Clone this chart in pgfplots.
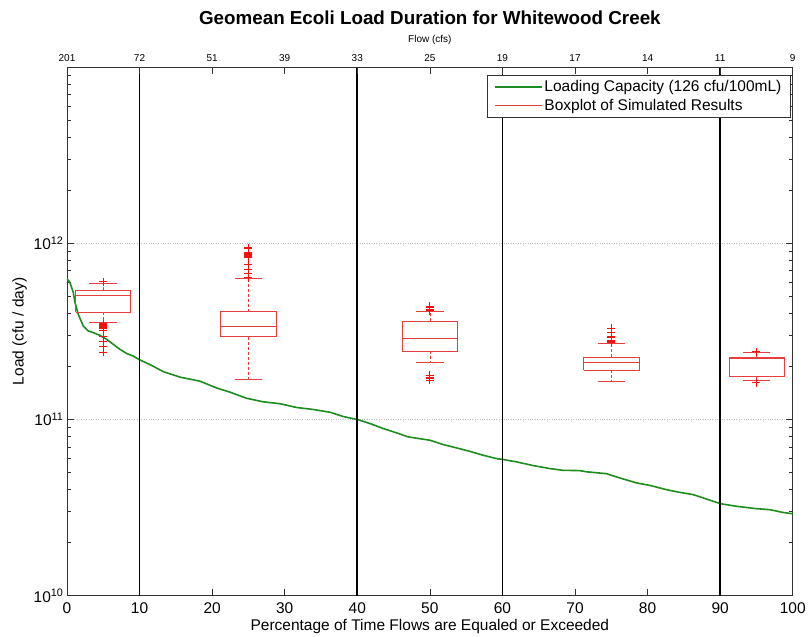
\documentclass[border=0pt]{standalone}
\usepackage{pgfplots}
\pgfplotsset{compat=1.18}
\usepackage{fontspec}
\setmainfont{Liberation Sans}

\definecolor{capgreen}{RGB}{30,140,30}
\definecolor{boxred}{RGB}{228,62,62}
\definecolor{outred}{RGB}{245,15,15}

% MATLAB-like boxplot parts
\pgfplotsset{
  boxline/.style={boxred, line width=0.7pt, forget plot, mark=none},
  whisk/.style={boxred, line width=0.7pt, forget plot, mark=none, dash pattern=on 3pt off 2pt},
  outl/.style={draw=outred, only marks, mark=+, mark size=4pt, forget plot,
    mark options={draw=outred, solid, line width=1.1pt}},
}

\begin{document}
\begin{tikzpicture}
\begin{axis}[
  scale only axis, width=726pt, height=529pt,
  xmin=0, xmax=100, ymin=1e10, ymax=1e13, ymode=log,
  xtick={0,10,...,100}, xtick pos=bottom,
  ytick={1e10,1e11,1e12},
  yticklabels={10\textsuperscript{10},10\textsuperscript{11},10\textsuperscript{12}},
  minor ytick={2e10,3e10,4e10,5e10,6e10,7e10,8e10,9e10,
               2e11,3e11,4e11,5e11,6e11,7e11,8e11,9e11,
               2e12,3e12,4e12,5e12,6e12,7e12,8e12,9e12},
  yticklabel pos=left,
  ymajorgrids, major grid style={dotted, black!25, line width=0.6pt},
  tick align=inside,
  major tick length=7pt, minor tick length=4pt,
  every tick/.style={black!80, line width=0.6pt},
  axis line style={black!80, line width=0.8pt},
  tick label style={font=\fontsize{15.5}{18}\selectfont},
  xticklabel style={yshift=-3pt},
  /pgf/number format/assume math mode=true,
  xlabel={Percentage of Time Flows are Equaled or Exceeded},
  ylabel={Load (cfu / day)},
  label style={font=\fontsize{15.5}{18}\selectfont},
  xlabel style={yshift=1pt},
  legend style={at={(0.997,0.985)}, anchor=north east, draw=black!80, fill=white,
    font=\fontsize{15.5}{19}\selectfont, inner xsep=7pt, inner ysep=3.5pt, row sep=1.5pt},
  legend cell align=left,
  legend image code/.code={\draw[#1] (2pt,0pt) -- (49pt,0pt);},
]

% loading capacity duration curve
\addplot[capgreen, line width=1.6pt, mark=none] coordinates {
(0,6.3e11) (0.41,5.98e11) (0.87,5.25e11) (1.10,4.62e11) (1.56,3.95e11)
(2.25,3.39e11) (2.93,3.18e11) (3.62,3.11e11) (4.55,3.00e11) (5.47,2.85e11)
(6.38,2.67e11) (7.30,2.50e11) (8.22,2.37e11) (9.13,2.29e11) (9.92,2.19e11)
(11.43,2.05e11) (13.26,1.87e11) (15.56,1.74e11) (18.32,1.65e11) (20.62,1.51e11)
(22.45,1.43e11) (24.75,1.32e11) (27.04,1.26e11) (29.34,1.23e11) (31.64,1.17e11)
(33.93,1.14e11) (36.23,1.10e11) (38.06,1.04e11) (40.0,1.00e11) (41.74,9.49e10)
(43.57,8.89e10) (45.41,8.40e10) (47.01,7.97e10) (50.0,7.63e10) (51.83,7.21e10)
(53.68,6.90e10) (55.51,6.60e10) (57.34,6.27e10) (59.19,6.00e10) (60.1,5.93e10)
(61.94,5.75e10) (64.23,5.48e10) (66.53,5.27e10) (68.36,5.15e10) (70.66,5.13e10)
(71.58,5.05e10) (74.34,4.93e10) (76.17,4.66e10) (78.47,4.37e10) (80.30,4.23e10)
(82.60,4.00e10) (84.44,3.86e10) (86.27,3.75e10) (88.11,3.54e10) (90.04,3.33e10)
(92.24,3.22e10) (95.0,3.12e10) (96.83,3.08e10) (98.66,2.97e10) (100,2.92e10)
};
\addlegendentry{Loading Capacity (126 cfu/100mL)}

% flow regime boundaries
\addplot[black, line width=1.7pt, forget plot] coordinates {(10,1e10) (10,1e13)};
\addplot[black, line width=1.7pt, forget plot] coordinates {(40,1e10) (40,1e13)};
\addplot[black, line width=1.7pt, forget plot] coordinates {(60,1e10) (60,1e13)};
\addplot[black, line width=1.7pt, forget plot] coordinates {(90,1e10) (90,1e13)};

% --- box at 5 %: whiskers 3.57e11 / 5.93e11, quartiles 4.06e11 / 5.41e11, median 5.08e11
\addplot[whisk] coordinates {(5,4.06e11) (5,3.57e11)};
\addplot[whisk] coordinates {(5,5.41e11) (5,5.93e11)};
\addplot[boxline] coordinates {(3.1,3.57e11) (6.9,3.57e11)};
\addplot[boxline] coordinates {(3.1,5.93e11) (6.9,5.93e11)};
\addplot[boxline] coordinates {(1.2,4.06e11) (8.8,4.06e11) (8.8,5.41e11) (1.2,5.41e11) (1.2,4.06e11)};
\addplot[boxline] coordinates {(1.2,5.08e11) (8.8,5.08e11)};
\addplot[outl] coordinates {(5,3.50e11) (5,3.47e11) (5,3.42e11) (5,3.38e11)
  (5,3.34e11) (5,3.28e11) (5,3.21e11) (5,2.97e11) (5,2.78e11) (5,2.60e11) (5,2.41e11)
  (5,6.05e11)};

% --- box at 25 %
\addplot[whisk] coordinates {(25,2.95e11) (25,1.70e11)};
\addplot[whisk] coordinates {(25,4.09e11) (25,6.30e11)};
\addplot[boxline] coordinates {(23.1,1.70e11) (26.9,1.70e11)};
\addplot[boxline] coordinates {(23.1,6.30e11) (26.9,6.30e11)};
\addplot[boxline] coordinates {(21.2,2.95e11) (28.8,2.95e11) (28.8,4.09e11) (21.2,4.09e11) (21.2,2.95e11)};
\addplot[boxline] coordinates {(21.2,3.39e11) (28.8,3.39e11)};
\addplot[outl] coordinates {(25,6.37e11) (25,6.73e11) (25,7.10e11) (25,7.60e11) (25,8.30e11)
  (25,8.45e11) (25,8.55e11) (25,8.65e11) (25,8.80e11) (25,9.40e11)};

% --- box at 50 %
\addplot[whisk] coordinates {(50,2.44e11) (50,2.10e11)};
\addplot[whisk] coordinates {(50,3.62e11) (50,4.12e11)};
\addplot[boxline] coordinates {(48.1,2.10e11) (51.9,2.10e11)};
\addplot[boxline] coordinates {(48.1,4.12e11) (51.9,4.12e11)};
\addplot[boxline] coordinates {(46.2,2.44e11) (53.8,2.44e11) (53.8,3.62e11) (46.2,3.62e11) (46.2,2.44e11)};
\addplot[boxline] coordinates {(46.2,2.88e11) (53.8,2.88e11)};
\addplot[outl] coordinates {(50,4.15e11) (50,4.22e11) (50,4.30e11) (50,4.38e11)
  (50,1.78e11) (50,1.74e11) (50,1.70e11) (50,1.67e11)};

% --- box at 75 %
\addplot[whisk] coordinates {(75,1.90e11) (75,1.64e11)};
\addplot[whisk] coordinates {(75,2.26e11) (75,2.69e11)};
\addplot[boxline] coordinates {(73.1,1.64e11) (76.9,1.64e11)};
\addplot[boxline] coordinates {(73.1,2.69e11) (76.9,2.69e11)};
\addplot[boxline] coordinates {(71.2,1.90e11) (78.8,1.90e11) (78.8,2.26e11) (71.2,2.26e11) (71.2,1.90e11)};
\addplot[boxline] coordinates {(71.2,2.10e11) (78.8,2.10e11)};
\addplot[outl] coordinates {(75,2.74e11) (75,2.78e11) (75,2.82e11) (75,2.94e11)
  (75,3.11e11) (75,3.30e11)};

% --- box at 95 %
\addplot[whisk] coordinates {(95,1.76e11) (95,1.67e11)};
\addplot[whisk] coordinates {(95,2.24e11) (95,2.39e11)};
\addplot[boxline] coordinates {(93.1,1.67e11) (96.9,1.67e11)};
\addplot[boxline] coordinates {(93.1,2.39e11) (96.9,2.39e11)};
\addplot[boxline] coordinates {(91.2,1.76e11) (98.8,1.76e11) (98.8,2.24e11) (91.2,2.24e11) (91.2,1.76e11)};
\addplot[boxline] coordinates {(91.2,2.21e11) (98.8,2.21e11)};
\addplot[outl] coordinates {(95,2.42e11) (95,1.62e11)};

\addlegendimage{boxred, line width=1.3pt}
\addlegendentry{Boxplot of Simulated Results}

\coordinate (bl) at (rel axis cs:0,0);
\coordinate (tr) at (rel axis cs:1,1);
\end{axis}

% flow scale along the top edge
\begin{axis}[
  scale only axis, width=726pt, height=529pt,
  xmin=0, xmax=100, ymin=0, ymax=1,
  axis x line*=top, axis y line=none,
  xtick={0,10,...,100},
  xticklabels={201,72,51,39,33,25,19,17,14,11,9},
  tick align=inside, major tick length=7pt,
  every tick/.style={black!80, line width=0.6pt},
  axis line style={black!80, line width=0.8pt},
  xticklabel style={font=\fontsize{10}{12}\selectfont, yshift=1.5pt},
  xlabel={Flow (cfs)},
  xlabel style={font=\fontsize{10}{12}\selectfont, yshift=3pt},
  title={Geomean Ecoli Load Duration for Whitewood Creek},
  title style={font=\fontsize{18.8}{22}\selectfont\bfseries, yshift=33pt},
]
\addplot[draw=none] coordinates {(0,0) (100,1)};
\end{axis}

\path ([shift={(-67pt,-38pt)}]bl) rectangle ([shift={(16pt,67pt)}]tr);
\end{tikzpicture}
\end{document}
